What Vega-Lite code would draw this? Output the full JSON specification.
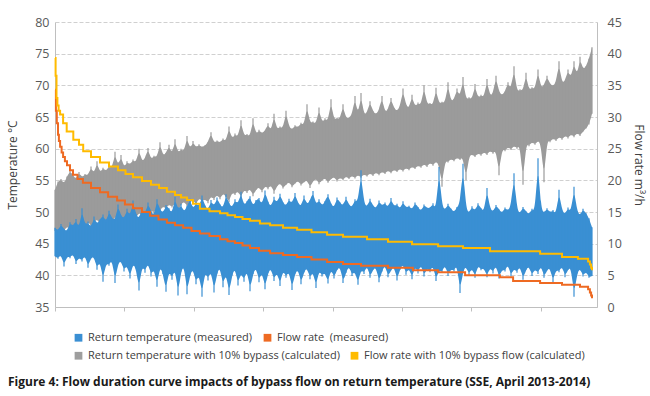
{
"$schema": "https://vega.github.io/schema/vega-lite/v6.json",
"width": 542, "height": 285,
"autosize": {"type": "none"},
"padding": {"left": 55, "top": 22, "right": 53, "bottom": 89},
"background": "white",
"config": {"view": {"stroke": null}, "font": "Open Sans", "axis": {"labelOverlap": false, "labelSeparation": 0, "labelBound": false}, "axisY": {"labelOverlap": false}, "axisLeft": {"labelOverlap": false}, "axisRight": {"labelOverlap": false}},
"title": {"text": "Figure 4: Flow duration curve impacts of bypass flow on return temperature (SSE, April 2013-2014)", "orient": "bottom", "anchor": "start", "frame": "group", "dx": -47, "offset": 16, "fontSize": 12, "fontWeight": "bold", "color": "#1a1a1a", "font": "Open Sans"},
"datasets": {
"t": [
{"k":0,"bh":47.5,"bl":43.0,"gh":53.5,"gl":47.0},{"k":1,"bh":47.0,"bl":42.6,"gh":54.8,"gl":46.6},{"k":2,"bh":48.1,"bl":43.4,"gh":55.2,"gl":47.5},{"k":3,"bh":47.3,"bl":41.4,"gh":54.4,"gl":46.9},{"k":4,"bh":46.9,"bl":43.1,"gh":55.6,"gl":47.8},{"k":5,"bh":48.4,"bl":42.7,"gh":56.5,"gl":47.2},{"k":6,"bh":47.6,"bl":43.5,"gh":55.8,"gl":48.1},{"k":7,"bh":48.9,"bl":41.8,"gh":55.1,"gl":46.8},{"k":8,"bh":47.2,"bl":42.9,"gh":56.3,"gl":47.9},{"k":9,"bh":50.6,"bl":42.2,"gh":55.4,"gl":48.4},
{"k":10,"bh":47.8,"bl":43.3,"gh":56.0,"gl":47.4},{"k":11,"bh":48.5,"bl":41.2,"gh":55.7,"gl":48.6},{"k":12,"bh":47.4,"bl":42.8,"gh":57.2,"gl":47.7},{"k":13,"bh":49.3,"bl":43.0,"gh":55.9,"gl":48.3},{"k":14,"bh":48.0,"bl":40.9,"gh":58.0,"gl":49.0},{"k":15,"bh":48.8,"bl":42.5,"gh":56.1,"gl":47.9},{"k":16,"bh":49.6,"bl":39.0,"gh":57.0,"gl":48.7},{"k":17,"bh":48.3,"bl":42.1,"gh":56.4,"gl":48.2},{"k":18,"bh":50.2,"bl":41.5,"gh":57.3,"gl":49.3},{"k":19,"bh":49.0,"bl":42.7,"gh":56.8,"gl":48.0},
{"k":20,"bh":48.6,"bl":38.8,"gh":59.5,"gl":49.5},{"k":21,"bh":51.2,"bl":41.9,"gh":57.1,"gl":48.8},{"k":22,"bh":49.4,"bl":42.4,"gh":59.0,"gl":49.7},{"k":23,"bh":48.9,"bl":40.6,"gh":56.9,"gl":48.4},{"k":24,"bh":50.5,"bl":41.8,"gh":58.0,"gl":49.9},{"k":25,"bh":49.2,"bl":39.5,"gh":57.4,"gl":49.1},{"k":26,"bh":51.8,"bl":42.0,"gh":58.3,"gl":50.2},{"k":27,"bh":49.7,"bl":41.1,"gh":57.7,"gl":48.9},{"k":28,"bh":48.8,"bl":37.6,"gh":60.0,"gl":50.0},{"k":29,"bh":50.8,"bl":41.7,"gh":57.9,"gl":49.4},
{"k":30,"bh":49.5,"bl":40.4,"gh":58.4,"gl":50.5},{"k":31,"bh":51.5,"bl":42.2,"gh":60.1,"gl":49.6},{"k":32,"bh":50.1,"bl":39.8,"gh":58.2,"gl":50.3},{"k":33,"bh":49.3,"bl":41.3,"gh":58.9,"gl":49.8},{"k":34,"bh":52.0,"bl":38.2,"gh":58.5,"gl":50.8},{"k":35,"bh":50.4,"bl":41.6,"gh":61.0,"gl":50.1},{"k":36,"bh":49.8,"bl":40.2,"gh":58.8,"gl":51.0},{"k":37,"bh":51.1,"bl":37.4,"gh":59.3,"gl":50.4},{"k":38,"bh":50.6,"bl":41.0,"gh":60.6,"gl":51.3},{"k":39,"bh":49.6,"bl":39.3,"gh":59.0,"gl":50.7},
{"k":40,"bh":52.4,"bl":41.4,"gh":61.5,"gl":51.5},{"k":41,"bh":50.2,"bl":36.8,"gh":59.2,"gl":50.2},{"k":42,"bh":51.3,"bl":40.6,"gh":60.0,"gl":51.2},{"k":43,"bh":49.9,"bl":41.8,"gh":59.4,"gl":51.7},{"k":44,"bh":50.9,"bl":37.0,"gh":62.0,"gl":50.9},{"k":45,"bh":52.1,"bl":40.1,"gh":59.8,"gl":51.4},{"k":46,"bh":50.3,"bl":41.2,"gh":61.2,"gl":52.0},{"k":47,"bh":51.6,"bl":38.6,"gh":60.1,"gl":51.1},{"k":48,"bh":50.7,"bl":40.5,"gh":60.7,"gl":52.3},{"k":49,"bh":52.6,"bl":36.6,"gh":60.2,"gl":51.6},
{"k":50,"bh":51.0,"bl":40.9,"gh":60.5,"gl":52.1},{"k":51,"bh":50.2,"bl":39.2,"gh":61.0,"gl":51.4},{"k":52,"bh":51.9,"bl":41.0,"gh":62.6,"gl":52.6},{"k":53,"bh":50.8,"bl":37.3,"gh":60.8,"gl":51.9},{"k":54,"bh":52.3,"bl":40.3,"gh":61.3,"gl":52.8},{"k":55,"bh":51.2,"bl":41.5,"gh":60.9,"gl":52.0},{"k":56,"bh":50.5,"bl":38.1,"gh":61.6,"gl":53.0},{"k":57,"bh":52.8,"bl":40.7,"gh":61.1,"gl":52.4},{"k":58,"bh":51.4,"bl":36.9,"gh":63.5,"gl":51.5},{"k":59,"bh":50.6,"bl":40.0,"gh":61.4,"gl":53.2},
{"k":60,"bh":52.0,"bl":41.3,"gh":62.4,"gl":52.7},{"k":61,"bh":51.1,"bl":38.4,"gh":61.7,"gl":53.4},{"k":62,"bh":53.2,"bl":40.6,"gh":64.5,"gl":52.2},{"k":63,"bh":50.9,"bl":39.0,"gh":61.9,"gl":53.6},{"k":64,"bh":51.7,"bl":41.1,"gh":62.3,"gl":53.0},{"k":65,"bh":52.5,"bl":37.5,"gh":61.8,"gl":53.8},{"k":66,"bh":50.8,"bl":40.2,"gh":64.8,"gl":52.5},{"k":67,"bh":51.9,"bl":41.4,"gh":62.1,"gl":53.5},{"k":68,"bh":52.2,"bl":38.9,"gh":63.0,"gl":54.0},{"k":69,"bh":51.0,"bl":40.8,"gh":62.4,"gl":53.1},
{"k":70,"bh":53.4,"bl":37.8,"gh":62.8,"gl":54.2},{"k":71,"bh":51.6,"bl":40.4,"gh":64.0,"gl":53.6},{"k":72,"bh":50.7,"bl":41.2,"gh":62.6,"gl":54.4},{"k":73,"bh":52.4,"bl":39.1,"gh":65.5,"gl":52.9},{"k":74,"bh":51.3,"bl":40.7,"gh":62.9,"gl":54.1},{"k":75,"bh":52.9,"bl":38.3,"gh":63.5,"gl":54.6},{"k":76,"bh":51.5,"bl":41.0,"gh":63.1,"gl":53.7},{"k":77,"bh":50.9,"bl":39.6,"gh":66.0,"gl":54.3},{"k":78,"bh":52.1,"bl":40.9,"gh":63.4,"gl":54.8},{"k":79,"bh":51.2,"bl":37.7,"gh":63.0,"gl":53.9},
{"k":80,"bh":53.0,"bl":40.3,"gh":63.7,"gl":54.5},{"k":81,"bh":51.4,"bl":41.1,"gh":63.3,"gl":55.0},{"k":82,"bh":50.8,"bl":38.6,"gh":64.1,"gl":54.2},{"k":83,"bh":52.6,"bl":40.5,"gh":63.6,"gl":54.7},{"k":84,"bh":51.1,"bl":41.3,"gh":67.0,"gl":55.1},{"k":85,"bh":51.8,"bl":39.4,"gh":63.9,"gl":53.8},{"k":86,"bh":53.3,"bl":40.8,"gh":64.3,"gl":54.9},{"k":87,"bh":51.0,"bl":38.0,"gh":63.8,"gl":55.3},{"k":88,"bh":52.0,"bl":41.0,"gh":66.5,"gl":54.4},{"k":89,"bh":50.9,"bl":39.8,"gh":64.0,"gl":55.0},
{"k":90,"bh":51.7,"bl":40.6,"gh":64.8,"gl":55.4},{"k":91,"bh":52.8,"bl":38.7,"gh":64.2,"gl":54.6},{"k":92,"bh":51.3,"bl":41.2,"gh":67.8,"gl":55.2},{"k":93,"bh":50.6,"bl":39.5,"gh":64.4,"gl":55.6},{"k":94,"bh":52.3,"bl":40.9,"gh":64.9,"gl":54.8},{"k":95,"bh":51.5,"bl":41.5,"gh":64.6,"gl":55.5},{"k":96,"bh":50.9,"bl":38.8,"gh":67.0,"gl":55.0},{"k":97,"bh":52.4,"bl":40.4,"gh":64.7,"gl":55.7},{"k":98,"bh":51.1,"bl":41.6,"gh":64.9,"gl":55.2},{"k":99,"bh":50.7,"bl":39.9,"gh":65.3,"gl":55.8},
{"k":100,"bh":52.0,"bl":40.8,"gh":68.3,"gl":55.3},{"k":101,"bh":51.4,"bl":38.5,"gh":65.0,"gl":55.9},{"k":102,"bh":56.6,"bl":41.1,"gh":68.8,"gl":55.4},{"k":103,"bh":51.2,"bl":40.2,"gh":65.2,"gl":56.0},{"k":104,"bh":50.8,"bl":41.7,"gh":65.7,"gl":55.6},{"k":105,"bh":52.1,"bl":39.6,"gh":67.5,"gl":56.2},{"k":106,"bh":51.0,"bl":40.9,"gh":65.9,"gl":55.7},{"k":107,"bh":50.5,"bl":41.4,"gh":65.4,"gl":56.3},{"k":108,"bh":51.8,"bl":38.9,"gh":66.0,"gl":55.8},{"k":109,"bh":50.9,"bl":40.6,"gh":68.3,"gl":56.4},
{"k":110,"bh":51.5,"bl":41.8,"gh":65.6,"gl":56.0},{"k":111,"bh":50.6,"bl":39.7,"gh":66.2,"gl":56.6},{"k":112,"bh":52.2,"bl":40.8,"gh":68.0,"gl":56.1},{"k":113,"bh":50.8,"bl":41.5,"gh":66.4,"gl":56.7},{"k":114,"bh":51.3,"bl":39.2,"gh":65.9,"gl":56.3},{"k":115,"bh":50.4,"bl":40.9,"gh":66.6,"gl":56.9},{"k":116,"bh":51.7,"bl":41.9,"gh":69.5,"gl":56.4},{"k":117,"bh":50.6,"bl":40.1,"gh":66.8,"gl":57.0},{"k":118,"bh":51.0,"bl":41.3,"gh":66.3,"gl":56.6},{"k":119,"bh":50.3,"bl":39.4,"gh":68.5,"gl":57.2},
{"k":120,"bh":51.5,"bl":41.6,"gh":66.5,"gl":56.8},{"k":121,"bh":50.8,"bl":40.3,"gh":67.3,"gl":57.4},{"k":122,"bh":50.1,"bl":41.9,"gh":66.7,"gl":57.0},{"k":123,"bh":51.2,"bl":39.8,"gh":70.0,"gl":57.6},{"k":124,"bh":50.6,"bl":41.2,"gh":66.9,"gl":57.1},{"k":125,"bh":50.6,"bl":40.5,"gh":67.2,"gl":57.8},{"k":126,"bh":51.4,"bl":41.7,"gh":66.8,"gl":57.3},{"k":127,"bh":50.2,"bl":39.1,"gh":69.6,"gl":58.0},{"k":128,"bh":57.1,"bl":41.0,"gh":67.0,"gl":57.5},{"k":129,"bh":50.9,"bl":40.4,"gh":67.4,"gl":54.0},
{"k":130,"bh":50.3,"bl":41.8,"gh":67.1,"gl":58.2},{"k":131,"bh":51.3,"bl":39.9,"gh":70.5,"gl":57.8},{"k":132,"bh":50.5,"bl":41.1,"gh":67.3,"gl":58.4},{"k":133,"bh":49.9,"bl":40.6,"gh":67.8,"gl":58.0},{"k":134,"bh":50.8,"bl":41.9,"gh":69.5,"gl":58.6},{"k":135,"bh":51.2,"bl":37.2,"gh":68.0,"gl":58.2},{"k":136,"bh":57.6,"bl":40.7,"gh":71.3,"gl":58.8},{"k":137,"bh":50.4,"bl":41.5,"gh":67.6,"gl":55.0},{"k":138,"bh":49.8,"bl":40.0,"gh":68.1,"gl":58.9},{"k":139,"bh":50.9,"bl":41.3,"gh":67.7,"gl":59.1},
{"k":140,"bh":50.1,"bl":39.6,"gh":70.2,"gl":58.7},{"k":141,"bh":51.4,"bl":41.7,"gh":67.9,"gl":59.3},{"k":142,"bh":50.6,"bl":40.8,"gh":68.5,"gl":58.9},{"k":143,"bh":49.9,"bl":41.2,"gh":68.0,"gl":59.5},{"k":144,"bh":53.8,"bl":39.7,"gh":71.0,"gl":59.0},{"k":145,"bh":50.5,"bl":41.4,"gh":68.2,"gl":59.7},{"k":146,"bh":50.0,"bl":40.3,"gh":68.7,"gl":59.2},{"k":147,"bh":51.1,"bl":41.8,"gh":71.5,"gl":59.9},{"k":148,"bh":50.4,"bl":39.5,"gh":68.9,"gl":55.8},{"k":149,"bh":49.8,"bl":41.0,"gh":68.4,"gl":60.1},
{"k":150,"bh":50.7,"bl":40.6,"gh":69.0,"gl":59.6},{"k":151,"bh":50.2,"bl":41.9,"gh":70.5,"gl":60.3},{"k":152,"bh":50.9,"bl":39.8,"gh":69.2,"gl":59.8},{"k":153,"bh":56.1,"bl":41.2,"gh":73.0,"gl":60.5},{"k":154,"bh":50.3,"bl":40.4,"gh":68.8,"gl":60.0},{"k":155,"bh":49.7,"bl":41.6,"gh":69.4,"gl":60.7},{"k":156,"bh":50.8,"bl":39.3,"gh":69.0,"gl":54.3},{"k":157,"bh":50.1,"bl":40.9,"gh":72.0,"gl":60.9},{"k":158,"bh":49.6,"bl":41.5,"gh":69.1,"gl":60.4},{"k":159,"bh":50.5,"bl":39.9,"gh":69.7,"gl":61.1},
{"k":160,"bh":50.0,"bl":41.1,"gh":69.3,"gl":60.6},{"k":161,"bh":58.5,"bl":40.2,"gh":72.5,"gl":61.3},{"k":162,"bh":50.4,"bl":41.7,"gh":69.5,"gl":60.8},{"k":163,"bh":49.8,"bl":39.6,"gh":70.0,"gl":54.7},{"k":164,"bh":50.6,"bl":40.8,"gh":71.5,"gl":61.5},{"k":165,"bh":49.9,"bl":41.3,"gh":70.2,"gl":61.0},{"k":166,"bh":50.3,"bl":38.9,"gh":69.9,"gl":61.7},{"k":167,"bh":49.5,"bl":41.0,"gh":70.4,"gl":61.2},{"k":168,"bh":53.5,"bl":40.5,"gh":73.8,"gl":61.9},{"k":169,"bh":50.2,"bl":41.6,"gh":70.2,"gl":61.4},
{"k":170,"bh":49.6,"bl":39.7,"gh":70.7,"gl":62.1},{"k":171,"bh":50.7,"bl":40.9,"gh":72.5,"gl":61.6},{"k":172,"bh":49.9,"bl":41.4,"gh":71.0,"gl":62.3},{"k":173,"bh":54.0,"bl":36.6,"gh":73.8,"gl":61.8},{"k":174,"bh":50.1,"bl":40.3,"gh":71.3,"gl":62.5},{"k":175,"bh":49.4,"bl":41.2,"gh":74.5,"gl":62.0},{"k":176,"bh":50.5,"bl":39.8,"gh":72.4,"gl":62.7},{"k":177,"bh":49.8,"bl":40.7,"gh":73.0,"gl":63.2},{"k":178,"bh":49.0,"bl":39.6,"gh":74.2,"gl":63.8},{"k":179,"bh":47.6,"bl":39.9,"gh":76.0,"gl":65.5}
],
"o": [
{"k":0,"f":34.3},{"k":0.3,"f":31.0},{"k":0.6,"f":29.0},{"k":1.0,"f":27.2},{"k":1.3,"f":26.2},{"k":1.7,"f":25.3},{"k":2.2,"f":24.4},{"k":2.7,"f":23.7},{"k":3.3,"f":23.0},{"k":4.0,"f":22.4},{"k":5.0,"f":21.6},{"k":6.0,"f":20.9},{"k":7.5,"f":20.2},{"k":9.3,"f":19.6},{"k":12.0,"f":18.8},{"k":15.0,"f":18.1},{"k":17.7,"f":17.4},{"k":20.7,"f":16.8},{"k":23.3,"f":16.2},{"k":26.0,"f":15.6},{"k":29.0,"f":15.0},{"k":31.7,"f":14.4},{"k":34.5,"f":13.8},{"k":37.3,"f":13.3},{"k":40.0,"f":12.9},{"k":42.7,"f":12.5},{"k":45.5,"f":12.0},{"k":48.3,"f":11.6},{"k":51.5,"f":11.2},{"k":55.0,"f":10.7},{"k":57.5,"f":10.4},{"k":60.0,"f":10.1},{"k":62.5,"f":9.7},{"k":65.0,"f":9.3},{"k":68.0,"f":8.9},{"k":71.7,"f":8.5},{"k":76.0,"f":8.2},{"k":80.7,"f":7.9},{"k":85.5,"f":7.5},{"k":90.7,"f":7.1},{"k":96.0,"f":6.8},{"k":102.0,"f":6.5},{"k":111.0,"f":6.2},{"k":119.3,"f":5.8},{"k":127.7,"f":5.5},{"k":136.7,"f":5.0},{"k":148.3,"f":4.7},{"k":152.7,"f":4.1},{"k":161.7,"f":3.8},{"k":169.0,"f":3.5},{"k":175.0,"f":3.2},{"k":177.7,"f":2.8},{"k":178.3,"f":2.3},{"k":178.7,"f":1.8},{"k":179.0,"f":1.4}
],
"y": [
{"k":0,"f":39.3},{"k":0.2,"f":36.5},{"k":0.5,"f":33.0},{"k":0.8,"f":31.8},{"k":1.2,"f":31.0},{"k":1.7,"f":30.4},{"k":2.7,"f":29.0},{"k":3.9,"f":27.7},{"k":6.1,"f":26.4},{"k":8.0,"f":25.6},{"k":9.4,"f":24.6},{"k":12.0,"f":23.7},{"k":15.0,"f":22.8},{"k":18.0,"f":22.2},{"k":21.0,"f":21.6},{"k":23.5,"f":21.0},{"k":26.0,"f":20.5},{"k":29.0,"f":19.9},{"k":32.0,"f":19.3},{"k":34.7,"f":18.8},{"k":37.3,"f":18.2},{"k":40.0,"f":17.7},{"k":42.0,"f":17.3},{"k":44.0,"f":16.9},{"k":46.0,"f":16.3},{"k":48.3,"f":15.5},{"k":51.5,"f":15.1},{"k":55.0,"f":14.8},{"k":57.5,"f":14.5},{"k":60.0,"f":14.2},{"k":62.5,"f":13.9},{"k":65.0,"f":13.6},{"k":68.3,"f":13.2},{"k":71.7,"f":12.9},{"k":76.0,"f":12.5},{"k":80.7,"f":12.2},{"k":85.5,"f":11.8},{"k":90.7,"f":11.4},{"k":96.0,"f":11.1},{"k":104.0,"f":10.7},{"k":111.0,"f":10.3},{"k":119.0,"f":9.9},{"k":127.7,"f":9.6},{"k":136.0,"f":9.3},{"k":145.0,"f":8.8},{"k":161.7,"f":8.4},{"k":169.0,"f":7.9},{"k":174.3,"f":7.6},{"k":177.7,"f":7.2},{"k":178.3,"f":6.7},{"k":178.7,"f":6.2},{"k":179.0,"f":5.8}
]
},
"layer": [
{
"encoding": {
  "x": {"field": "k", "type": "quantitative", "scale": {"domain": [0, 180.667], "nice": false, "zero": false}, "axis": {"values": [0, 23.133, 46.267, 69.4, 92.533, 115.667, 138.8, 161.933], "labels": false, "title": null, "ticks": true, "tickSize": 4, "tickColor": "#bfbfbf", "domainColor": "#bfbfbf", "grid": false}},
  "y": {"field": "bh", "type": "quantitative", "scale": {"domain": [35, 80], "nice": false, "zero": false}, "axis": {"orient": "left", "values": [35,40,45,50,55,60,65,70,75,80], "labelOverlap": false, "labelSeparation": 0, "title": "Temperature °C", "grid": true, "gridDash": [4,2], "gridColor": "#d0d0d0", "ticks": false, "domainColor": "#bfbfbf", "labelFontSize": 12.5, "labelColor": "#595959", "labelPadding": 6, "titleFontSize": 12, "titleFontWeight": "normal", "titleColor": "#404040", "titlePadding": 15}}
},
"layer": [
{"data": {"name": "t"}, "mark": {"type": "square", "opacity": 0, "size": 1},
 "encoding": {
  "color": {"datum": "Return temperature (measured)", "type": "nominal",
   "scale": {"domain": ["Return temperature (measured)", "Flow rate\u00a0 (measured)"], "range": ["#3a8fd3", "#ee6a22"]},
   "legend": {"orient": "none", "legendX": 18, "legendY": 310, "direction": "horizontal", "symbolType": "square", "symbolSize": 60, "labelFontSize": 11, "labelLimit": 400, "labelColor": "#404040", "labelFont": "Open Sans", "columnPadding": 9, "title": null, "symbolStrokeWidth": 0, "symbolOpacity": 1}}
 }},
{"data": {"name": "t"}, "mark": {"type": "square", "opacity": 0, "size": 1},
 "encoding": {
  "fill": {"datum": "Return temperature with 10% bypass (calculated)", "type": "nominal",
   "scale": {"domain": ["Return temperature with 10% bypass (calculated)", "Flow rate with 10% bypass flow (calculated)"], "range": ["#9e9e9e", "#ffbb00"]},
   "legend": {"orient": "none", "legendX": 18, "legendY": 328, "direction": "horizontal", "symbolType": "square", "symbolSize": 60, "labelFontSize": 11, "labelLimit": 400, "labelColor": "#404040", "labelFont": "Open Sans", "columnPadding": 9, "title": null, "symbolStrokeWidth": 0, "symbolOpacity": 1}}
 }},
{"data": {"name": "t"}, "mark": {"type": "area", "interpolate": "basis", "color": "#9b9b9b"},
 "encoding": {"y": {"field": "gh", "type": "quantitative"}, "y2": {"field": "gl"}}},
{"data": {"name": "t"}, "mark": {"type": "rule", "color": "#9b9b9b", "strokeWidth": 1.2},
 "encoding": {"y": {"field": "gh", "type": "quantitative"}, "y2": {"field": "gl"}}},
{"data": {"name": "t"}, "mark": {"type": "area", "interpolate": "basis", "color": "#3a8fd3"},
 "encoding": {"y2": {"field": "bl"}}},
{"data": {"name": "t"}, "mark": {"type": "rule", "color": "#3a8fd3", "strokeWidth": 1.2},
 "encoding": {"y2": {"field": "bl"}}}
]
},
{
"encoding": {
  "x": {"field": "k", "type": "quantitative"},
  "y": {"field": "f", "type": "quantitative", "scale": {"domain": [0, 45], "nice": false, "zero": false}, "axis": {"orient": "right", "values": [0,5,10,15,20,25,30,35,40,45], "labelOverlap": false, "labelSeparation": 0, "title": "Flow rate m³/h", "grid": false, "ticks": false, "domainColor": "#bfbfbf", "labelFontSize": 12.5, "labelColor": "#595959", "labelPadding": 10, "titleFontSize": 12, "titleFontWeight": "normal", "titleColor": "#404040", "titlePadding": 10}}
},
"layer": [
{"data": {"name": "o"}, "mark": {"type": "line", "interpolate": "step-after", "strokeWidth": 2, "color": "#ee6a22"}},
{"data": {"name": "y"}, "mark": {"type": "line", "interpolate": "step-after", "strokeWidth": 2, "color": "#ffbb00"}}
]
}
],
"resolve": {"scale": {"y": "independent"}}
}
